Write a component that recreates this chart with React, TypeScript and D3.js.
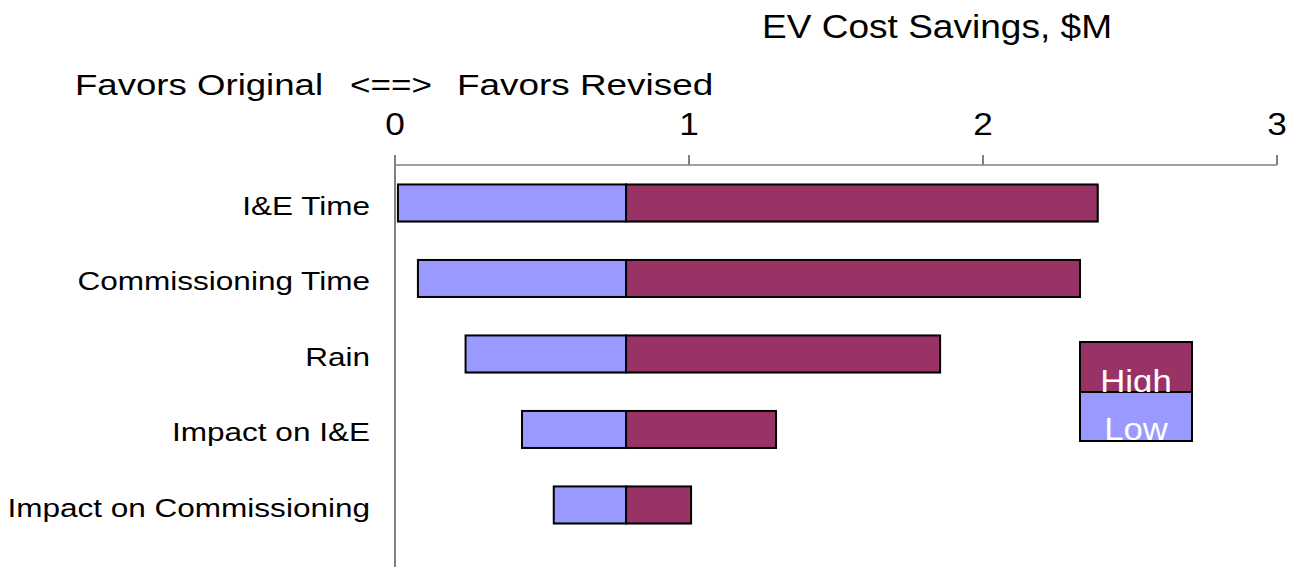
import React from 'react';
import * as d3 from 'd3';

const categories = ['I&E Time', 'Commissioning Time', 'Rain', 'Impact on I&E', 'Impact on Commissioning'];
const lowValues = [0.01, 0.078, 0.24, 0.432, 0.54];
const highValues = [2.39, 2.33, 1.854, 1.296, 1.007];
const baseValue = 0.786;
const ticks = [0, 1, 2, 3];

const LOW = '#9999FF';
const HIGH = '#993366';
const FONT = '"Liberation Sans", Arial, sans-serif';

// text that is a bit wider than the font's own proportions
function Wide(props: {x: number, y: number, size: number, sx: number, anchor?: string, fill?: string, clip?: string, children: any}) {
    return (
        <g clipPath={props.clip}>
            <text transform={`translate(${props.x},${props.y}) scale(${props.sx},1)`}
                  textAnchor={props.anchor || 'start'} fontSize={props.size} fill={props.fill || '#000'}
                  style={{whiteSpace: 'pre'}}>
                {props.children}
            </text>
        </g>
    );
}

export default function App() {
    const width = 1289;
    const height = 567;

    const x = d3.scaleLinear().domain([0, 3]).range([395, 1277]);
    const y = d3.scaleBand<string>().domain(categories).range([165.6, 542.3])
        .paddingInner(0.51).paddingOuter(0.25);
    const bw = y.bandwidth();

    const bars = categories.map((c, i) => {
        const top = y(c) as number;
        const xl = x(lowValues[i]);
        const xb = x(baseValue);
        const xh = x(highValues[i]);
        return (
            <g key={c}>
                {/* faint shadow edge */}
                <rect x={xl} y={top + 1} width={xh - xl + 1} height={bw} fill="#888" />
                <rect x={xl} y={top} width={xb - xl} height={bw} fill={LOW} stroke="#000" strokeWidth={2} />
                <rect x={xb} y={top} width={xh - xb} height={bw} fill={HIGH} stroke="#000" strokeWidth={2} />
                <Wide x={370} y={top + bw / 2 + 12} size={26.5} sx={1.19} anchor="end">{c}</Wide>
            </g>
        );
    });

    const lx = 1080, lw = 112;
    return (
        <svg width={width} height={height} style={{position: 'absolute', left: 0, top: 0}}
             fontFamily={FONT}>
            <rect width={width} height={height} fill="#fff" />
            <Wide x={762} y={38} size={34} sx={1.09}>EV Cost Savings, $M</Wide>
            <Wide x={75} y={95} size={30} sx={1.22}>Favors Original</Wide>
            <Wide x={350} y={95} size={30} sx={1.17}>{'<==>'}</Wide>
            <Wide x={457} y={95} size={30} sx={1.23}>Favors Revised</Wide>

            {ticks.map(t => (
                <g key={t}>
                    <Wide x={x(t)} y={134.5} size={32} sx={1.1} anchor="middle">{t}</Wide>
                    <line x1={x(t)} x2={x(t)} y1={155} y2={165} stroke="#808080" strokeWidth={2} />
                </g>
            ))}
            <line x1={x(0)} x2={x(3)} y1={165} y2={165} stroke="#808080" strokeWidth={1.5} />
            <line x1={x(0)} x2={x(0)} y1={155} y2={567} stroke="#808080" strokeWidth={2} />

            {bars}

            <defs>
                <clipPath id="legHigh"><rect x={lx} y={342} width={lw} height={50} /></clipPath>
                <clipPath id="legLow"><rect x={lx} y={392} width={lw} height={49} /></clipPath>
            </defs>
            <rect x={lx} y={342} width={lw} height={50} fill={HIGH} stroke="#000" strokeWidth={2} />
            <rect x={lx} y={392} width={lw} height={49} fill={LOW} stroke="#000" strokeWidth={2} />
            <Wide x={lx + lw / 2} y={392} size={31} sx={1.12} anchor="middle" fill="#fff"
                  clip="url(#legHigh)">High</Wide>
            <Wide x={lx + lw / 2} y={440} size={31} sx={1.12} anchor="middle" fill="#fff"
                  clip="url(#legLow)">Low</Wide>
        </svg>
    );
}
